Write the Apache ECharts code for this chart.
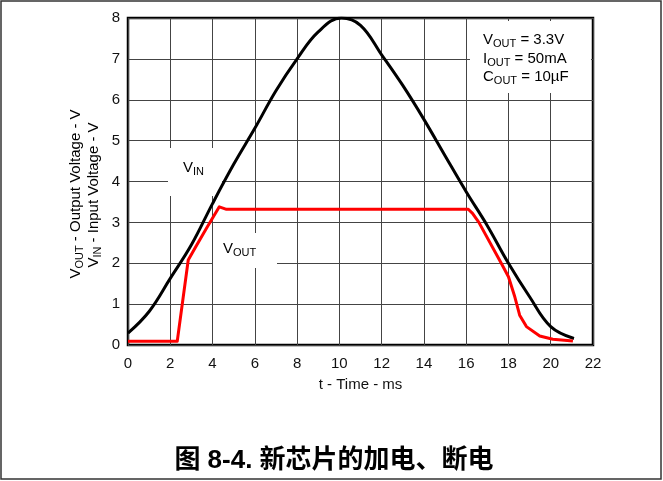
<!DOCTYPE html>
<html>
<head>
<meta charset="utf-8">
<script src="https://cdn.jsdelivr.net/npm/echarts@6/dist/echarts.min.js"></script>
<style>
  html, body { margin: 0; padding: 0; background: #fff; }
  #chart { width: 663px; height: 481px; }
</style>
</head>
<body>
<div id="chart"></div>
<script>
// VIN trace (black)
var vinTime  = [0, 1, 2, 3, 4, 5, 6, 7, 8, 9, 10.1, 11, 12, 13, 14, 15, 16, 17, 18, 19, 20, 21.1];
var vinVolts = [0.29, 0.82, 1.63, 2.45, 3.46, 4.42, 5.3, 6.22, 7.0, 7.66, 8.0, 7.82, 7.1, 6.35, 5.52, 4.63, 3.75, 2.92, 2.0, 1.18, 0.45, 0.16];

// VOUT trace (red)
var voutTime  = [0, 2.33, 2.85, 3.2, 3.72, 4.32, 4.66, 16.1, 16.3, 16.6, 17.66, 18.0, 18.3, 18.53, 18.85, 19.48, 20.1, 21.05];
var voutVolts = [0.09, 0.09, 2.08, 2.4, 2.86, 3.38, 3.32, 3.32, 3.22, 3.0, 2.0, 1.67, 1.18, 0.73, 0.45, 0.22, 0.14, 0.1];

var timeTicks = [0, 2, 4, 6, 8, 10, 12, 14, 16, 18, 20, 22];
var voltTicks = [0, 1, 2, 3, 4, 5, 6, 7, 8];

function pairs(xs, ys) {
    var out = [];
    for (var i = 0; i < xs.length; i++) out.push([xs[i], ys[i]]);
    return out;
}

var chart = echarts.init(document.getElementById('chart'));
var base = 'Liberation Sans, Arial, sans-serif';
var subRich = {
    b: { fontSize: 15, fontFamily: base, color: '#111' },
    s: { fontSize: 11, fontFamily: base, color: '#111', padding: [8, 0, 0, 0] }
};

var option = {
    backgroundColor: '#fff',
    animation: false,
    grid: {
        left: 128, right: 70, top: 18, bottom: 136,
        show: true, borderColor: '#000', borderWidth: 2.5, backgroundColor: 'transparent'
    },
    xAxis: {
        type: 'value',
        min: timeTicks[0], max: timeTicks[timeTicks.length - 1], interval: 2,
        name: 't - Time - ms', nameLocation: 'middle', nameGap: 32,
        nameTextStyle: { fontSize: 15, fontFamily: base, color: '#111' },
        axisLine: { show: false }, axisTick: { show: false },
        axisLabel: { fontSize: 15, fontFamily: base, color: '#111', margin: 11 },
        splitLine: { show: true, lineStyle: { color: '#444', width: 1 } }
    },
    yAxis: {
        type: 'value',
        min: voltTicks[0], max: voltTicks[voltTicks.length - 1], interval: 1,
        axisLine: { show: false }, axisTick: { show: false },
        axisLabel: { fontSize: 15, fontFamily: base, color: '#111', margin: 8 },
        splitLine: { show: true, lineStyle: { color: '#444', width: 1 } }
    },
    series: [
        {
            name: 'VIN', type: 'line', data: pairs(vinTime, vinVolts),
            smooth: 0.4, showSymbol: false, z: 3,
            lineStyle: { color: '#000', width: 3 }
        },
        {
            name: 'VOUT', type: 'line', data: pairs(voutTime, voutVolts),
            showSymbol: false, z: 4,
            lineStyle: { color: '#ff0000', width: 3, join: 'round' }
        }
    ],
    graphic: [
        // outer frame of the figure
        { type: 'rect', z: 0, shape: { x: 1, y: 1, width: 660, height: 478 },
          style: { fill: 'none', stroke: '#333', lineWidth: 1.5 } },
        // white boxes behind the labels
        { type: 'rect', z: 1, shape: { x: 470, y: 21, width: 121, height: 72 }, style: { fill: '#fff' } },
        { type: 'rect', z: 1, shape: { x: 168, y: 148, width: 54, height: 48 }, style: { fill: '#fff' } },
        { type: 'rect', z: 1, shape: { x: 213, y: 233, width: 64, height: 35 }, style: { fill: '#fff' } },
        { type: 'text', z: 5, left: 483, top: 32,
          style: { text: '{b|V}{s|OUT}{b| = 3.3V}', rich: subRich } },
        { type: 'text', z: 5, left: 483, top: 51,
          style: { text: '{b|I}{s|OUT}{b| = 50mA}', rich: subRich } },
        { type: 'text', z: 5, left: 483, top: 69,
          style: { text: '{b|C}{s|OUT}{b| = 10µF}', rich: subRich } },
        { type: 'text', z: 5, left: 183, top: 160,
          style: { text: '{b|V}{s|IN}', rich: subRich } },
        { type: 'text', z: 5, left: 223, top: 241,
          style: { text: '{b|V}{s|OUT}', rich: subRich } },
        // rotated y axis titles
        { type: 'text', z: 5, x: 76, y: 194, rotation: Math.PI / 2,
          style: { text: '{b|V}{s|OUT}{b| - Output Voltage - V}', rich: subRich,
                   textAlign: 'center', textVerticalAlign: 'middle' } },
        { type: 'text', z: 5, x: 94, y: 195, rotation: Math.PI / 2,
          style: { text: '{b|V}{s|IN}{b| - Input Voltage - V}', rich: subRich,
                   textAlign: 'center', textVerticalAlign: 'middle' } },
        // caption
        { type: 'text', z: 5, x: 334, y: 461,
          style: { text: '图 8-4. 新芯片的加电、断电', fill: '#000',
                   font: 'bold 26px "Liberation Sans", "Noto Sans CJK SC", sans-serif',
                   textAlign: 'center', textVerticalAlign: 'middle' } }
    ]
};

chart.setOption(option);
window.addEventListener('resize', chart.resize);
</script>
</body>
</html>
